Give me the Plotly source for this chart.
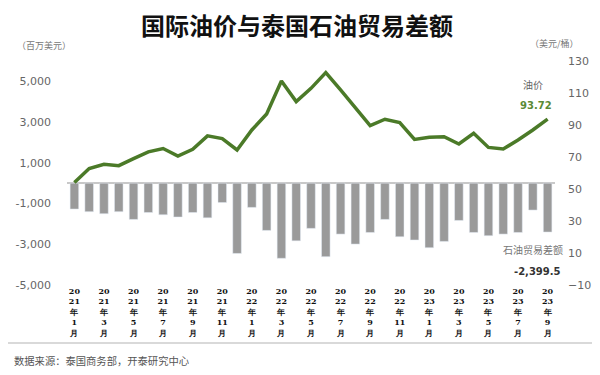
import plotly.graph_objects as go

months = [f"20<br>{y}<br>年<br>{m}<br>月" for y in (21, 22, 23) for m in range(1, 13)][:33]
trade_balance = [-1270, -1400, -1500, -1400, -1780, -1440, -1550, -1660, -1440, -1700, -950, -3450,
                 -1190, -2320, -3690, -2830, -2220, -3610, -2500, -2990, -2420, -1780, -2630, -2790,
                 -3170, -2860, -1830, -2420, -2580, -2500, -2420, -1320, -2399.5]
oil_price = [54.0, 62.8, 65.5, 64.6, 69.0, 73.2, 75.3, 70.6, 74.8, 83.2, 81.5, 74.4,
             86.9, 96.9, 117.5, 104.6, 112.9, 122.8, 111.9, 100.4, 89.6, 93.6, 91.5, 81.0,
             82.3, 82.7, 78.1, 84.8, 76.0, 75.0, 80.6, 86.9, 93.72]
left_ticks = [5000, 3000, 1000, -1000, -3000, -5000]
right_ticks = [130, 110, 90, 70, 50, 30, 10, -10]

x = list(range(len(trade_balance)))
tick_idx = x[::2]
tick_text = [f"<b>{months[i]}</b>" for i in tick_idx]

fig = go.Figure()
fig.add_trace(go.Bar(x=x, y=trade_balance, marker_color="#9a9a9a", width=0.58, yaxis="y"))
fig.add_trace(go.Scatter(x=x, y=oil_price, mode="lines", line=dict(color="#4b7a28", width=3.5), yaxis="y2"))

tickfont = dict(family="DejaVu Sans", size=11, color="#666666")
# page body has an 8px margin, so the figure is sized to fill the rest of the window
fig.update_layout(
    width=592, height=367,
    margin=dict(l=59, r=45, t=53, b=90),
    paper_bgcolor="white", plot_bgcolor="white",
    showlegend=False,
    bargap=0.4,
    title=dict(text="<b>国际油价与泰国石油贸易差额</b>", x=0.488, xanchor="center", y=0.948, yanchor="middle",
               font=dict(family="Noto Sans CJK SC", size=24, color="#111111")),
    xaxis=dict(range=[-0.5, 32.5], tickmode="array", tickvals=tick_idx, ticktext=tick_text,
               tickangle=0, showgrid=False, showline=False, ticks="", automargin=False,
               tickfont=dict(family="DejaVu Serif", size=8, color="#111111")),
    yaxis=dict(range=[-5000, 6000], tickmode="array", tickvals=left_ticks, automargin=False,
               ticktext=[f"{v:,}" for v in left_ticks], showgrid=False, zeroline=True,
               zerolinecolor="#c8c8c8", zerolinewidth=1.5, ticklabelstandoff=15, tickfont=tickfont),
    yaxis2=dict(range=[-10, 130], overlaying="y", side="right", tickmode="array", tickvals=right_ticks,
                automargin=False, showgrid=False, zeroline=False, ticklabelstandoff=12, tickfont=tickfont),
)

ann_font = dict(family="Noto Sans CJK SC", size=9, color="#777777")
fig.add_annotation(text="（百万美元）", xref="paper", yref="paper", x=-0.048, y=1.071, showarrow=False,
                   font=ann_font, xanchor="center", yanchor="middle")
fig.add_annotation(text="（美元/桶）", xref="paper", yref="paper", x=0.999, y=1.076, showarrow=False,
                   font=ann_font, xanchor="center", yanchor="middle")
fig.add_annotation(text="油价", x=31.0, y=115.5, xref="x", yref="y2", showarrow=False,
                   font=dict(family="Noto Sans CJK SC", size=10, color="#666666"))
fig.add_annotation(text="<b>93.72</b>", x=31.2, y=102.5, xref="x", yref="y2", showarrow=False,
                   font=dict(family="DejaVu Sans", size=10, color="#5a8a35"))
fig.add_annotation(text="石油贸易差额", x=31.0, y=12.5, xref="x", yref="y2", showarrow=False,
                   font=dict(family="Noto Sans CJK SC", size=10, color="#777777"))
fig.add_annotation(text="<b>-2,399.5</b>", x=31.35, y=-4360, xref="x", yref="y", showarrow=False,
                   font=dict(family="DejaVu Sans", size=10, color="#333333"))
fig.add_annotation(text="数据来源：泰国商务部，开泰研究中心", xref="paper", yref="paper", x=-0.112, y=-0.335,
                   xanchor="left", yanchor="middle", showarrow=False,
                   font=dict(family="Noto Sans CJK SC", size=10.3, color="#555555"))
fig.add_shape(type="line", xref="paper", yref="paper", x0=-0.126, x1=1.087, y0=-0.259, y1=-0.259,
              line=dict(color="#cccccc", width=1.5))

fig.write_html("out.html")
